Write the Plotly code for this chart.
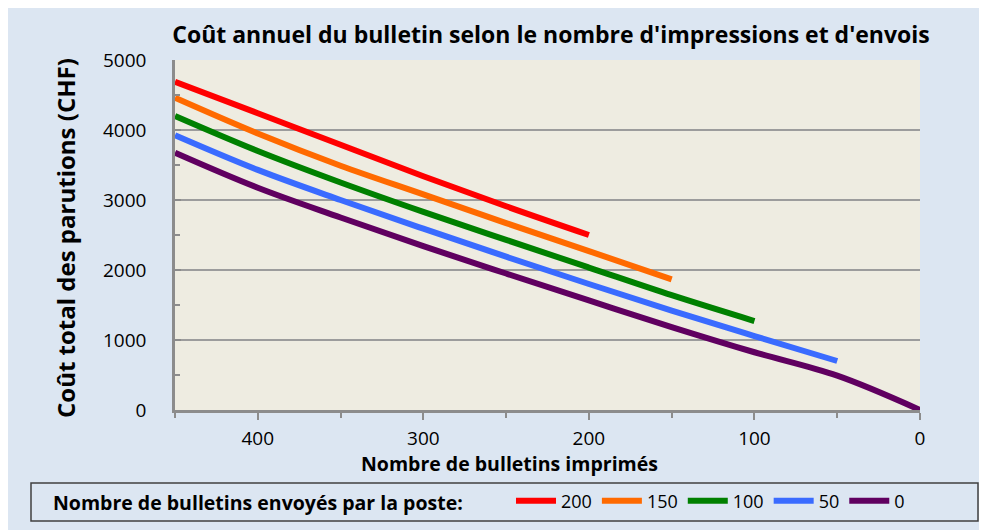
import plotly.graph_objects as go

# ---- data ----
printed = [450, 400, 350, 300, 250, 200, 150, 100, 50, 0]
series_names = ["200", "150", "100", "50", "0"]
cost_200 = [4690, 4240, 3790, 3340, 2910, 2500]
cost_150 = [4460, 3950, 3490, 3080, 2670, 2270, 1867]
cost_100 = [4200, 3700, 3250, 2830, 2430, 2035, 1640, 1271]
cost_50 = [3925, 3430, 3000, 2590, 2190, 1800, 1420, 1057, 700]
cost_0 = [3675, 3175, 2750, 2340, 1950, 1565, 1185, 825, 490, 0]
x_ticks = [400, 300, 200, 100, 0]
y_ticks = [0, 1000, 2000, 3000, 4000, 5000]

colors = ["#FF0000", "#FF6A00", "#008000", "#3A6BFF", "#600060"]
all_costs = [cost_200, cost_150, cost_100, cost_50, cost_0]

FONT = "Open Sans"

fig = go.Figure()
for name, costs, col in zip(series_names, all_costs, colors):
    fig.add_trace(go.Scatter(
        x=printed[:len(costs)], y=costs, name=name, mode="lines",
        line=dict(color=col, width=6, shape="spline", smoothing=1.0),
    ))

# page offset of the figure inside the browser window
OX, OY = 7, 8
W, H = 987, 530
L, R, T, B = 174 - OX, W - (919 - OX), 60 - OY, H - (410 - OY)
pw, ph = W - L - R, H - T - B

def px_x(p):  # screen px -> paper
    return (p - OX - L) / pw

def px_y(p):
    return (H - B - (p - OY)) / ph

fig.update_layout(
    width=W, height=H,
    margin=dict(l=L, r=R, t=T, b=B),
    paper_bgcolor="#DCE6F2",
    plot_bgcolor="#EEECE1",
    font=dict(family=FONT, color="#000000", size=18),
    title=dict(text="<b>Coût annuel du bulletin selon le nombre d'impressions et d'envois</b>",
               x=px_x(550), xref="paper", xanchor="center", y=1 - (35 - OY) / H, yanchor="middle",
               font=dict(family=FONT, size=23, color="#000000")),
    showlegend=True,
    legend=dict(orientation="h", x=px_x(510), y=px_y(501), xanchor="left", yanchor="middle",
                bgcolor="rgba(0,0,0,0)", font=dict(size=18, family=FONT),
                itemwidth=40, tracegroupgap=0, traceorder="normal"),
    xaxis=dict(range=[450, 0], tickvals=x_ticks, ticks="outside", ticklen=7, tickwidth=2,
               tickcolor="#8C8C8C", showline=True, linecolor="#8C8C8C", linewidth=2.5,
               showgrid=False, zeroline=False, tickfont=dict(size=19, family=FONT),
               ticklabelstandoff=2,
               minor=dict(dtick=50, ticks="outside", ticklen=5, tickcolor="#8C8C8C", tickwidth=1.5)),
    yaxis=dict(range=[0, 5000], tickvals=y_ticks, ticks="inside", ticklen=6, tickwidth=1.5,
               tickcolor="#8C8C8C", showline=True, linecolor="#8C8C8C", linewidth=2.5,
               showgrid=True, gridcolor="#9C9C9C", gridwidth=1.5, zeroline=False,
               tickfont=dict(size=19, family=FONT), ticklabelstandoff=22,
               minor=dict(dtick=500, ticks="inside", ticklen=5, tickcolor="#8C8C8C",
                          tickwidth=1.5, showgrid=False)),
)

# legend box
fig.add_shape(type="rect", xref="paper", yref="paper",
              x0=px_x(30), x1=px_x(977), y0=px_y(521), y1=px_y(483),
              line=dict(color="#404040", width=1.5), fillcolor="rgba(0,0,0,0)")

fig.add_annotation(text="<b>Nombre de bulletins envoyés par la poste:</b>",
                   xref="paper", yref="paper", x=px_x(50), y=px_y(502),
                   xanchor="left", yanchor="middle", showarrow=False,
                   font=dict(size=19.5, family=FONT))

fig.add_annotation(text="<b>Nombre de bulletins imprimés</b>",
                   xref="paper", yref="paper", x=px_x(508), y=px_y(463),
                   xanchor="center", yanchor="middle", showarrow=False,
                   font=dict(size=19.5, family=FONT))

fig.add_annotation(text="<b>Coût total des parutions (CHF)</b>",
                   xref="paper", yref="paper", x=px_x(64), y=px_y(238),
                   xanchor="center", yanchor="middle", showarrow=False, textangle=-90,
                   font=dict(size=24, family=FONT))

fig.write_html("out.html")
